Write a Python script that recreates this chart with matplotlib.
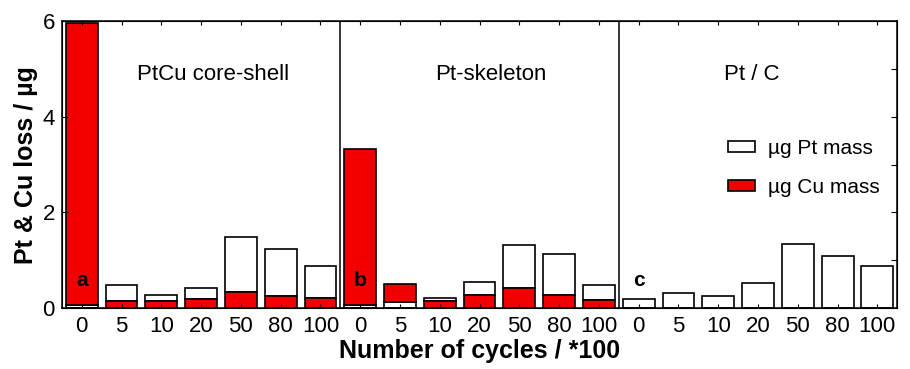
import numpy as np
import matplotlib.pyplot as plt

plt.rcParams['font.family'] = ['Liberation Sans', 'DejaVu Sans']

# x tick labels (cycles /100), repeated for each sample
cycles = ["0", "5", "10", "20", "50", "80", "100"]
samples = ["PtCu core-shell", "Pt-skeleton", "Pt / C"]
tags = ["a", "b", "c"]

# mass loss in ug
pt_coreshell = [0.07, 0.34, 0.13, 0.24, 1.14, 0.97, 0.65]
cu_coreshell = [5.89, 0.15, 0.15, 0.19, 0.34, 0.26, 0.22]
pt_skeleton = [0.07, 0.13, 0.07, 0.27, 0.90, 0.86, 0.32]
cu_skeleton = [3.26, 0.38, 0.15, 0.28, 0.42, 0.28, 0.17]
pt_ptc = [0.19, 0.31, 0.26, 0.52, 1.35, 1.08, 0.87]
cu_ptc = [0, 0, 0, 0, 0, 0, 0]

# bars where the Pt part sits under the Cu part
pt_under = [0, 7, 8]

pt = np.array(pt_coreshell + pt_skeleton + pt_ptc)
cu = np.array(cu_coreshell + cu_skeleton + cu_ptc)
x = np.arange(len(pt))
under = np.isin(x, pt_under)

fig = plt.figure(figsize=(9.1, 3.69), dpi=100)
ax = fig.add_axes([0.068, 0.165, 0.918, 0.778])

pt_bottom = np.where(under, 0, cu)
cu_bottom = np.where(under, pt, 0)
has_cu = cu > 0

ax.bar(x, pt, 0.8, bottom=pt_bottom, color="white", edgecolor="black",
       linewidth=1.2, label="µg Pt mass")
ax.bar(x[has_cu], cu[has_cu], 0.8, bottom=cu_bottom[has_cu], color="#f20000",
       edgecolor="black", linewidth=1.2, label="µg Cu mass")

n = len(cycles)
for k in range(1, len(samples)):
    ax.axvline(k * n - 0.5, color="black", lw=1.1)

label_x = [3.3, 10.28, 16.84]
for k, name in enumerate(samples):
    ax.text(label_x[k], 4.88, name, fontsize=16, ha="center", va="center")
    ax.text(k * n, 0.58, tags[k], fontsize=15, fontweight="bold",
            ha="center", va="center")

ax.set_xlim(-0.5, len(pt) - 0.5)
ax.set_ylim(0, 6)
ax.set_xticks(x)
ax.set_xticklabels(cycles * len(samples), fontsize=16)
ax.set_yticks([0, 2, 4, 6])
ax.tick_params(axis="y", labelsize=16, direction="in", length=4, pad=5)
ax.tick_params(axis="x", direction="in", length=3, pad=6, top=True)

ax2 = ax.twinx()
ax2.set_ylim(0, 6)
ax2.set_yticks([1, 2, 3, 4, 5])
ax2.set_yticklabels([])
ax2.tick_params(direction="in", length=4)

ax.set_xlabel("Number of cycles / *100", fontsize=18, fontweight="bold", labelpad=1)
ax.set_ylabel("Pt & Cu loss / µg", fontsize=18, fontweight="bold", labelpad=3)

ax.legend(loc="upper left", bbox_to_anchor=(0.775, 0.655), frameon=False,
          fontsize=15, handlelength=1.3, handleheight=0.45, handletextpad=0.6,
          labelspacing=0.95)

for s in ax.spines.values():
    s.set_linewidth(1.1)

plt.savefig("out.png")
